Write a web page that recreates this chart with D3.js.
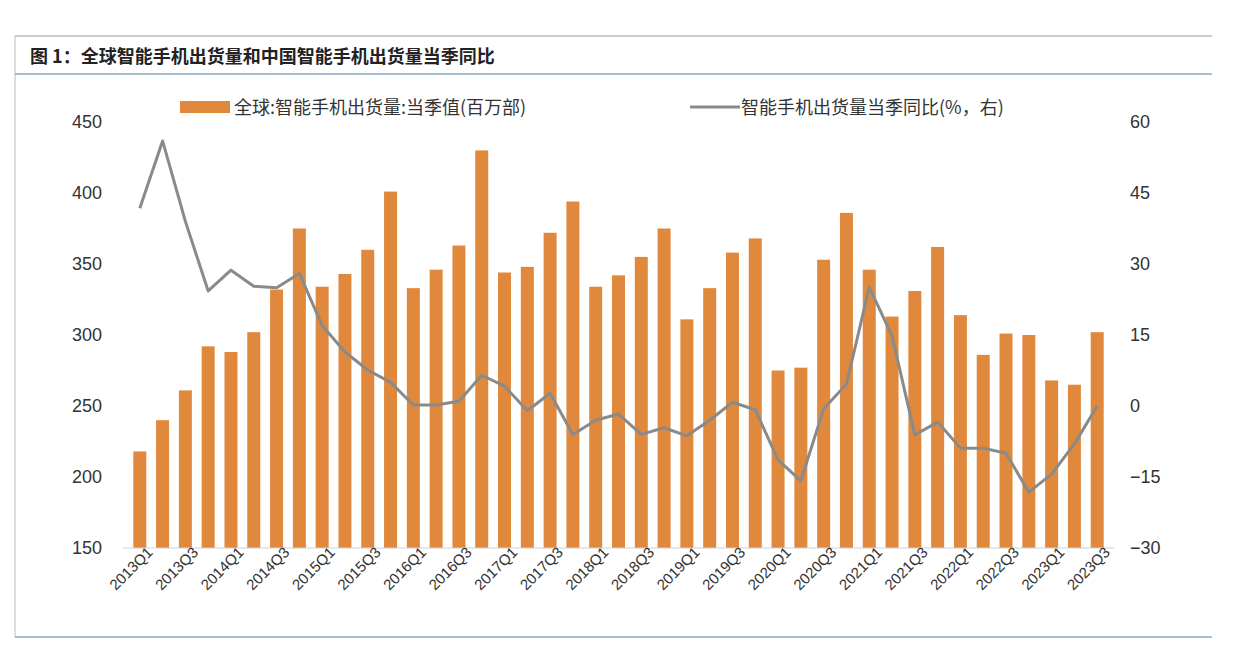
<!DOCTYPE html>
<html><head><meta charset="utf-8">
<script src="https://cdn.jsdelivr.net/npm/d3@7"></script>
<style>body{margin:0;background:#fff}svg{display:block;font-family:"Noto Sans CJK SC","Liberation Sans",Arial,sans-serif}</style>
</head><body><svg id="c" width="1242" height="650"></svg>
<script>
const quarters=[];
for(let y=2013;y<=2023;y++)for(let q=1;q<=4;q++){if(y===2023&&q>3)break;quarters.push(y+"Q"+q);}
const shipments=[218,240,261,292,288,302,332,375,334,343,360,401,333,346,363,430,344,348,372,394,334,342,355,375,311,333,358,368,275,277,353,386,346,313,331,362,314,286,301,300,268,265,302];
const yoy=[41.8,56,39,24.3,28.7,25.3,25,28,17,11.4,7.6,5,0.2,0.2,1,6.5,4.2,-1,2.7,-6,-3,-1.7,-6,-4.6,-6.3,-3,0.8,-0.8,-11.4,-15.8,-0.6,4.6,25.1,14.8,-6.1,-3.4,-8.9,-8.9,-10,-18.2,-14.4,-8,0];
const leftTicks=[150,200,250,300,350,400,450];
const rightTicks=[-30,-15,0,15,30,45,60];
const titleText="图 1：全球智能手机出货量和中国智能手机出货量当季同比";
const legendBar="全球:智能手机出货量:当季值(百万部)";
const legendLine="智能手机出货量当季同比(%，右)";

const svg=d3.select("#c");
const plotTop=122,bot=548;
const x=d3.scaleBand().domain(quarters).range([123.5,1113.5]).padding(0.43);
const yL=d3.scaleLinear().domain([150,450]).range([bot,plotTop]);
const yR=d3.scaleLinear().domain([-30,60]).range([bot,plotTop]);
const barC="#e0893c",lineC="#8a8a8a";

svg.append("line").attr("x1",15).attr("x2",1212).attr("y1",36).attr("y2",36).attr("stroke","#999");
svg.append("line").attr("x1",15).attr("x2",15).attr("y1",36).attr("y2",637).attr("stroke","#bbb");
svg.append("text").attr("x",30).attr("y",63).attr("font-size",18).attr("font-weight","bold").attr("fill","#222").text(titleText);
svg.append("line").attr("x1",15).attr("x2",1212).attr("y1",74).attr("y2",74).attr("stroke","#8aa6bd").attr("stroke-width",1.5);
svg.append("line").attr("x1",15).attr("x2",1212).attr("y1",637).attr("y2",637).attr("stroke","#8aa6bd").attr("stroke-width",1.5);

svg.selectAll("rect.b").data(shipments).enter().append("rect").attr("class","b")
 .attr("x",(d,i)=>x(quarters[i])).attr("width",x.bandwidth())
 .attr("y",d=>yL(d)).attr("height",d=>bot-yL(d)).attr("fill",barC);

svg.append("path").datum(yoy).attr("fill","none").attr("stroke",lineC).attr("stroke-width",3)
 .attr("stroke-linejoin","round")
 .attr("d",d3.line().x((d,i)=>x(quarters[i])+x.bandwidth()/2).y(d=>yR(d)));

svg.append("line").attr("x1",123).attr("x2",1114).attr("y1",bot).attr("y2",bot).attr("stroke","#d0d0d0");

const aL=svg.append("g").attr("transform","translate(102,0)").call(d3.axisLeft(yL).tickValues(leftTicks).tickSize(0).tickPadding(0));
const aR=svg.append("g").attr("transform","translate(1130,0)").call(d3.axisRight(yR).tickValues(rightTicks).tickSize(0).tickPadding(0));
[aL,aR].forEach(a=>{a.select(".domain").remove();a.selectAll("text").attr("font-size",18).attr("fill","#333").attr("font-family","Liberation Sans,Arial");});

const labQ=quarters.filter((q,i)=>i%2===0);
const ax=svg.append("g").attr("transform",`translate(0,${bot})`).call(d3.axisBottom(x).tickValues(labQ).tickSize(0).tickPadding(0));
ax.select(".domain").remove();
ax.selectAll("text").attr("font-size",15).attr("fill","#333").attr("font-family","Liberation Sans,Arial")
 .attr("text-anchor","end").attr("dx","0.4em").attr("dy","0.9em").attr("transform","rotate(-45)");

svg.append("rect").attr("x",180).attr("y",101).attr("width",50).attr("height",12).attr("fill",barC);
svg.append("text").attr("x",234).attr("y",114).attr("font-size",18).attr("fill","#333").text(legendBar);
svg.append("line").attr("x1",690).attr("x2",740).attr("y1",107).attr("y2",107).attr("stroke",lineC).attr("stroke-width",3);
svg.append("text").attr("x",741).attr("y",114).attr("font-size",18).attr("fill","#333").text(legendLine);
</script></body></html>
